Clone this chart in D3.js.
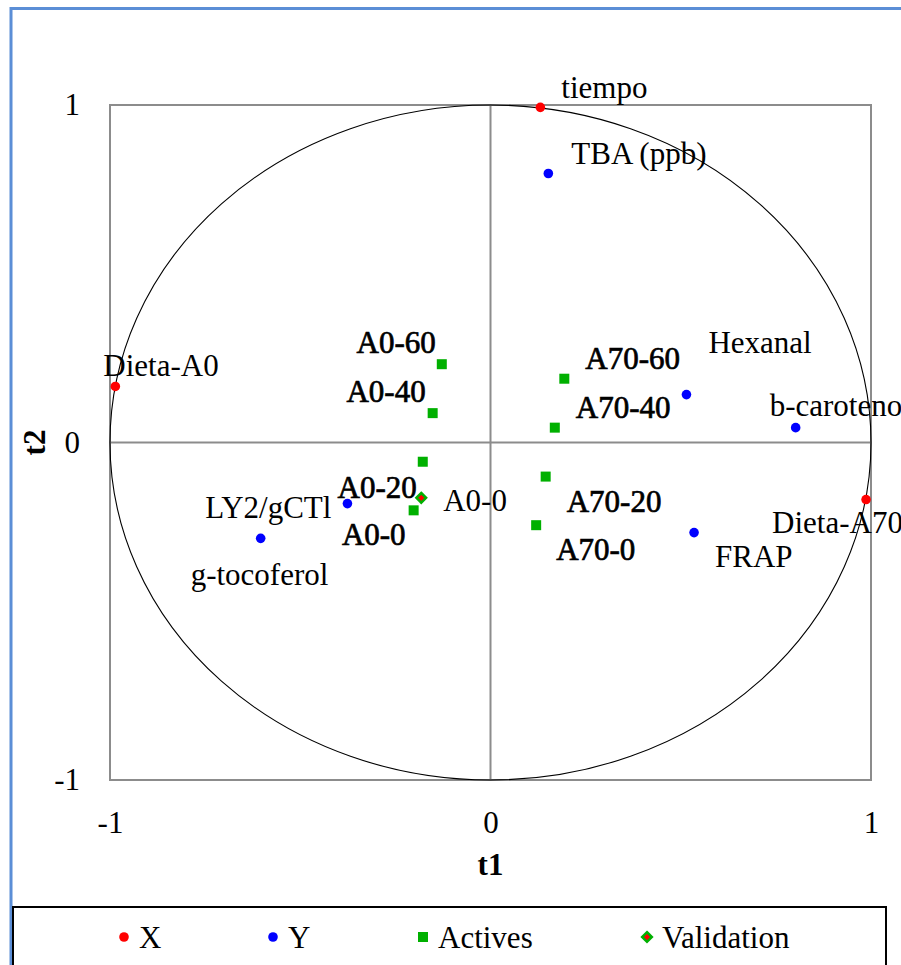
<!doctype html>
<html lang="en">

<head>
    <meta charset="utf-8">
    <title>d3 - correlation circle t1/t2</title>
    <script src="https://cdn.jsdelivr.net/npm/d3@7"></script>
    <style>
        body {
            margin: 0;
            background: #ffffff;
        }

        svg text {
            font-family: "Liberation Serif", "Times New Roman", serif;
            fill: #000000;
        }
    </style>
</head>

<body>
    <svg></svg>
    <script>
        var width = 901;
        var height = 965;

        // X variables (red)
        var xNames = ['tiempo', 'Dieta-A0', 'Dieta-A70'];
        var xT1 = [0.131, -0.986, 0.987];
        var xT2 = [0.993, 0.166, -0.169];

        // Y variables (blue)
        var yNames = ['TBA (ppb)', 'Hexanal', 'b-carotenoides', 'FRAP', 'LY2/gCTl', 'g-tocoferol'];
        var yT1 = [0.152, 0.515, 0.802, 0.535, -0.376, -0.604];
        var yT2 = [0.797, 0.142, 0.044, -0.267, -0.181, -0.284];

        // active observations (green squares)
        var actNames = ['A0-60', 'A0-40', 'A0-20', 'A0-0', 'A70-60', 'A70-40', 'A70-20', 'A70-0'];
        var actT1 = [-0.128, -0.152, -0.178, -0.202, 0.194, 0.169, 0.145, 0.120];
        var actT2 = [0.232, 0.087, -0.057, -0.201, 0.189, 0.044, -0.101, -0.245];

        // validation observation
        var valNames = ['A0-0'];
        var valT1 = [-0.182];
        var valT2 = [-0.164];

        var tickValues = [-1, 0, 1];
        var legendNames = ['X', 'Y', 'Actives', 'Validation'];

        // label placement (dx, dy, anchor) for each point, by group
        var xLabelPos = [[21, -9, 'start'], [-12, -10, 'start'], [-94, 33, 'start']];
        var yLabelPos = [[23, -10, 'start'], [22, -42, 'start'], [-26, -12, 'start'],
                         [21, 34, 'start'], [-16, 14, 'end'], [-70, 47, 'start']];
        var actLabelPos = [[-6, -11, 'end'], [-7, -11, 'end'], [-6, 36, 'end'], [-8, 35, 'end'],
                           [21, -10, 'start'], [21, -10, 'start'], [21, 35, 'start'], [20, 35, 'start']];
        var valLabelPos = [[22, 13, 'start']];

        var plotLeft = 110, plotRight = 871, plotTop = 105, plotBottom = 780;
        var fontSize = '31px';

        var xScale = d3.scaleLinear().domain([-1, 1]).range([plotLeft, plotRight]);
        var yScale = d3.scaleLinear().domain([-1, 1]).range([plotBottom, plotTop]);

        var svg = d3.select('svg').attr('width', width).attr('height', height);

        // blue picture frame
        svg.append('path')
            .attr('d', 'M11,' + height + 'V8.5H' + width)
            .attr('fill', 'none')
            .attr('stroke', '#5b8ed6')
            .attr('stroke-width', 3);

        // plot area border
        svg.append('rect')
            .attr('x', plotLeft).attr('y', plotTop)
            .attr('width', plotRight - plotLeft).attr('height', plotBottom - plotTop)
            .attr('fill', 'none')
            .attr('stroke', '#8c8c8c')
            .attr('stroke-width', 2);

        // zero lines
        svg.append('line')
            .attr('x1', xScale(0)).attr('x2', xScale(0))
            .attr('y1', plotTop).attr('y2', plotBottom)
            .attr('stroke', '#8c8c8c').attr('stroke-width', 2);
        svg.append('line')
            .attr('x1', plotLeft).attr('x2', plotRight)
            .attr('y1', yScale(0)).attr('y2', yScale(0))
            .attr('stroke', '#8c8c8c').attr('stroke-width', 2);

        // unit circle
        svg.append('ellipse')
            .attr('cx', xScale(0)).attr('cy', yScale(0))
            .attr('rx', xScale(1) - xScale(0))
            .attr('ry', yScale(0) - yScale(1))
            .attr('fill', 'none')
            .attr('stroke', '#000000')
            .attr('stroke-width', 1.1);

        // axes
        var xAxis = d3.axisBottom(xScale).tickValues(tickValues).tickSize(0).tickPadding(31);
        var yAxis = d3.axisLeft(yScale).tickValues(tickValues).tickSize(0).tickPadding(30);
        var gx = svg.append('g').attr('transform', 'translate(0,' + plotBottom + ')').call(xAxis);
        var gy = svg.append('g').attr('transform', 'translate(' + plotLeft + ',0)').call(yAxis);
        [gx, gy].forEach(function (g) {
            g.select('.domain').remove();
            g.selectAll('text')
                .attr('font-family', '"Liberation Serif", serif')
                .attr('font-size', fontSize)
                .attr('fill', '#000')
                .text(function (d) { return d < 0 ? '-' + Math.abs(d) : d; });
        });

        svg.append('text')
            .attr('x', xScale(0)).attr('y', 875)
            .attr('text-anchor', 'middle')
            .attr('font-size', fontSize).attr('font-weight', 'bold')
            .text('t1');
        svg.append('text')
            .attr('transform', 'translate(45,' + yScale(0) + ') rotate(-90)')
            .attr('text-anchor', 'middle')
            .attr('font-size', fontSize).attr('font-weight', 'bold')
            .text('t2');

        function zip(names, t1, t2, pos) {
            return names.map(function (n, i) {
                return { name: n, t1: t1[i], t2: t2[i], pos: pos[i] };
            });
        }

        var xData = zip(xNames, xT1, xT2, xLabelPos);
        var yData = zip(yNames, yT1, yT2, yLabelPos);
        var actData = zip(actNames, actT1, actT2, actLabelPos);
        var valData = zip(valNames, valT1, valT2, valLabelPos);

        function labels(data, heavy) {
            svg.append('g').selectAll('text')
                .data(data)
                .enter()
                .append('text')
                .attr('x', function (d) { return xScale(d.t1) + d.pos[0]; })
                .attr('y', function (d) { return yScale(d.t2) + d.pos[1]; })
                .attr('text-anchor', function (d) { return d.pos[2]; })
                .attr('font-size', fontSize)
                .attr('stroke', heavy ? '#000' : 'none')
                .attr('stroke-width', heavy ? 0.7 : 0)
                .text(function (d) { return d.name; });
        }

        labels(xData, false);
        labels(yData, false);
        labels(actData, true);
        labels(valData, false);

        svg.append('g').selectAll('circle')
            .data(yData)
            .enter()
            .append('circle')
            .attr('cx', function (d) { return xScale(d.t1); })
            .attr('cy', function (d) { return yScale(d.t2); })
            .attr('r', 4.8)
            .attr('fill', '#0000ff');

        svg.append('g').selectAll('circle')
            .data(xData)
            .enter()
            .append('circle')
            .attr('cx', function (d) { return xScale(d.t1); })
            .attr('cy', function (d) { return yScale(d.t2); })
            .attr('r', 4.8)
            .attr('fill', '#ff0000');

        svg.append('g').selectAll('rect')
            .data(actData)
            .enter()
            .append('rect')
            .attr('x', function (d) { return xScale(d.t1) - 5; })
            .attr('y', function (d) { return yScale(d.t2) - 5; })
            .attr('width', 10).attr('height', 10)
            .attr('fill', '#00b000');

        var diamond = d3.symbol().type(d3.symbolDiamond2).size(60);
        svg.append('g').selectAll('path')
            .data(valData)
            .enter()
            .append('path')
            .attr('transform', function (d) { return 'translate(' + xScale(d.t1) + ',' + yScale(d.t2) + ')'; })
            .attr('d', diamond)
            .attr('fill', '#ff0000')
            .attr('stroke', '#00b000')
            .attr('stroke-width', 2.5);

        // legend
        var legend = svg.append('g');
        legend.append('rect')
            .attr('x', 13).attr('y', 907)
            .attr('width', 873).attr('height', 80)
            .attr('fill', '#ffffff')
            .attr('stroke', '#000000')
            .attr('stroke-width', 2);

        var legendX = [124, 273, 423, 647];
        var legendY = 937;
        legend.append('circle').attr('cx', legendX[0]).attr('cy', legendY).attr('r', 4.8).attr('fill', '#ff0000');
        legend.append('circle').attr('cx', legendX[1]).attr('cy', legendY).attr('r', 4.8).attr('fill', '#0000ff');
        legend.append('rect').attr('x', legendX[2] - 5).attr('y', legendY - 5).attr('width', 10).attr('height', 10).attr('fill', '#00b000');
        legend.append('path')
            .attr('transform', 'translate(' + legendX[3] + ',' + legendY + ')')
            .attr('d', diamond)
            .attr('fill', '#ff0000')
            .attr('stroke', '#00b000')
            .attr('stroke-width', 2.5);

        legend.selectAll('text.leg')
            .data(legendNames)
            .enter()
            .append('text')
            .attr('class', 'leg')
            .attr('x', function (d, i) { return legendX[i] + 15; })
            .attr('y', 948)
            .attr('font-size', fontSize)
            .text(function (d) { return d; });
    </script>

</body>

</html>
